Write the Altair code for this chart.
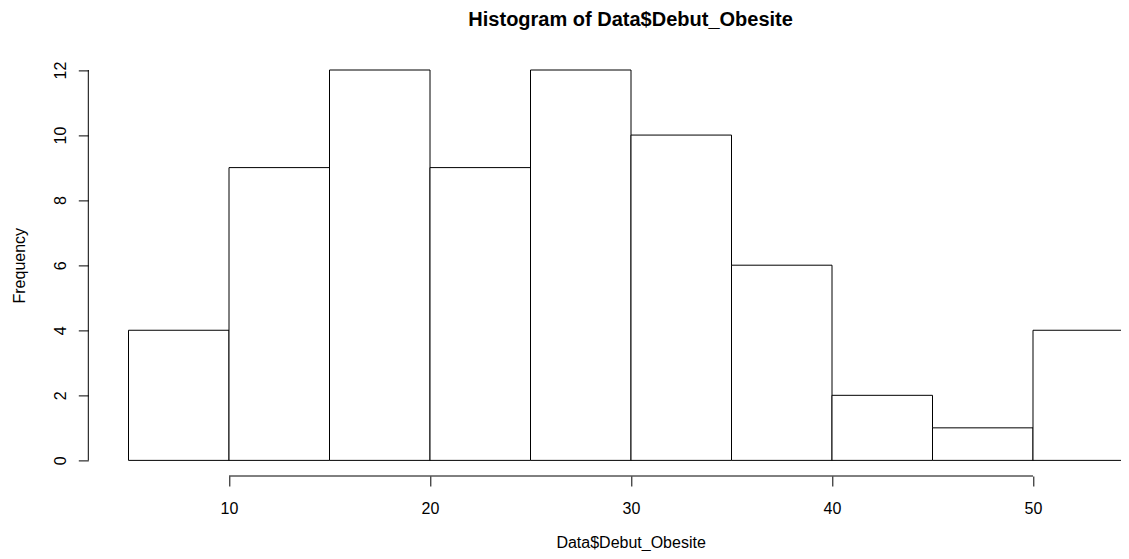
import altair as alt
import pandas as pd

# Histogram data
bin_start = [5, 10, 15, 20, 25, 30, 35, 40, 45, 50]
bin_end = [10, 15, 20, 25, 30, 35, 40, 45, 50, 55]
counts = [4, 9, 12, 9, 12, 10, 6, 2, 1, 4]
x_ticks = [10, 20, 30, 40, 50]
y_ticks = [0, 2, 4, 6, 8, 10, 12]

df = pd.DataFrame({"start": bin_start, "end": bin_end, "count": counts})
xaxis_df = pd.DataFrame({"lo": [min(x_ticks)], "hi": [max(x_ticks)]})
yaxis_df = pd.DataFrame({"lo": [min(y_ticks)], "hi": [max(y_ticks)]})

W = 1032.7
H = 421.6
px_per_unit = 20.1
x_lo = 3
x_hi = x_lo + W / px_per_unit
y_lo, y_hi = -0.48, 12.48

FONT = "Liberation Sans"

xscale = alt.Scale(domain=[x_lo, x_hi], nice=False, zero=False)
yscale = alt.Scale(domain=[y_lo, y_hi], nice=False, zero=False)

x_axis = alt.Axis(
    values=x_ticks, domain=False, grid=False, tickSize=10, tickColor="black",
    tickWidth=1, labelFontSize=16, labelFont=FONT, labelColor="black",
    labelBaseline="alphabetic", labelPadding=27, labelAlign="center",
    title="Data$Debut_Obesite", titleFont=FONT, titleFontSize=16,
    titleFontWeight="normal", titleColor="black", titleX=542.3, titleY=71.5,
    titleAlign="center", titleBaseline="alphabetic", labelFlush=False,
)
y_axis = alt.Axis(
    values=y_ticks, domain=False, grid=False, tickSize=10, tickColor="black",
    tickWidth=1, labelFontSize=16, labelFont=FONT, labelColor="black",
    labelAngle=270, labelAlign="center", labelBaseline="alphabetic",
    labelPadding=13.3, labelFlush=False,
    title="Frequency", titleFont=FONT, titleFontSize=16,
    titleFontWeight="normal", titleColor="black", titleAngle=270,
    titleX=-64.3, titleY=H / 2, titleAlign="center", titleBaseline="alphabetic",
)

bars = alt.Chart(df).mark_bar(
    fill="white", stroke="black", strokeWidth=1, clip=True
).encode(
    x=alt.X("start:Q", scale=xscale, axis=x_axis),
    x2="end:Q",
    y=alt.Y("count:Q", scale=yscale, axis=y_axis),
    y2=alt.datum(0),
)

x_line = alt.Chart(xaxis_df).mark_rule(color="black", strokeWidth=1).encode(
    x=alt.X("lo:Q", scale=xscale, axis=x_axis),
    x2="hi:Q",
    y=alt.value(H),
)

y_line = alt.Chart(yaxis_df).mark_rule(color="black", strokeWidth=1).encode(
    y=alt.Y("lo:Q", scale=yscale, axis=y_axis),
    y2="hi:Q",
    x=alt.value(0),
)

chart = alt.layer(bars, x_line, y_line).properties(
    width=W,
    height=H,
    title=alt.Title(
        "Histogram of Data$Debut_Obesite", font=FONT, fontSize=20,
        fontWeight="bold", color="black", anchor="middle", frame="group",
        dx=(630.6 - 88.3) - W / 2, offset=24,
    ),
    autosize=alt.AutoSizeParams(type="none"),
    padding={"left": 80.3, "top": 46.4, "right": 0, "bottom": 75},
    background="white",
).configure_view(stroke=None)

chart.save("out.html", embed_options={"renderer": "svg", "actions": False})
